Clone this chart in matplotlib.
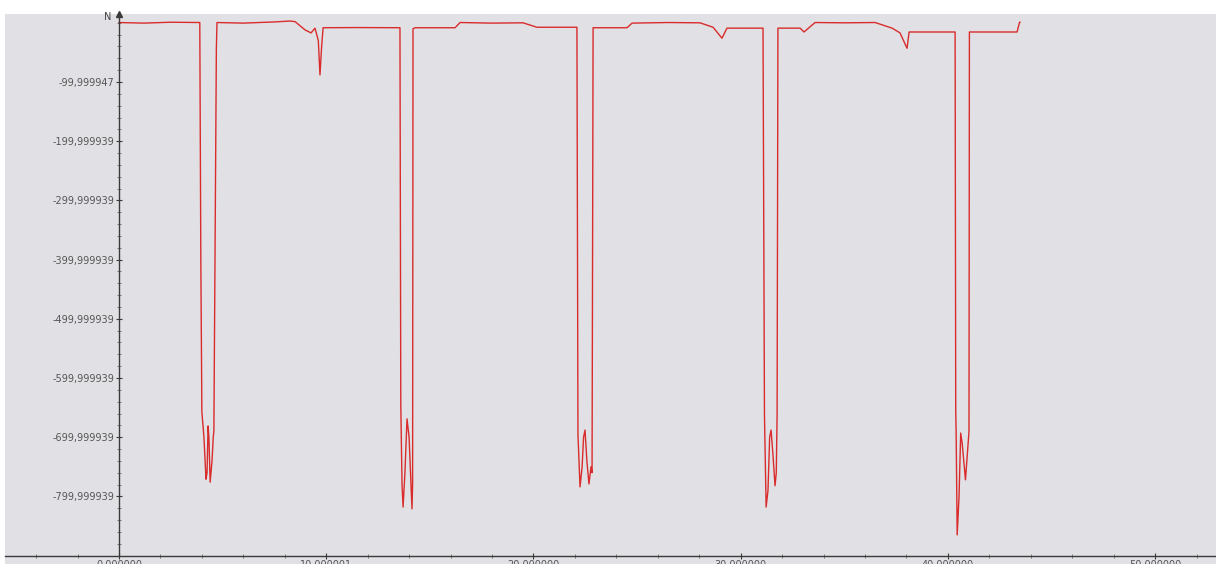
import matplotlib
matplotlib.use('Agg')
import matplotlib.pyplot as plt
from matplotlib.ticker import FixedLocator, MultipleLocator

# Force trace (time, newtons)
t = [0.0, 1.2, 2.5, 3.9, 3.95, 4.0, 4.1, 4.2, 4.25, 4.3, 4.34, 4.4, 4.49, 4.55, 4.58, 4.7, 4.73,
     6.0, 7.5, 8.25, 8.5, 8.98, 9.27, 9.46, 9.62, 9.70, 9.78, 9.85, 11.5, 13.56,
     13.6, 13.62, 13.66, 13.71, 13.8, 13.90, 14.0, 14.14, 14.17, 14.19, 14.3, 14.38,
     16.22, 16.46, 18.0, 19.5, 20.17, 22.1,
     22.15, 22.25, 22.35, 22.42, 22.49, 22.58, 22.68, 22.78, 22.83, 22.88,
     24.52, 24.76, 26.5, 28.04, 28.67, 29.1, 29.34, 31.08,
     31.15, 31.23, 31.32, 31.4, 31.47, 31.56, 31.66, 31.72, 31.76, 31.8, 31.90,
     32.87, 33.06, 33.59, 35.0, 36.49, 37.31, 37.69, 38.03, 38.13, 40.35,
     40.38, 40.40, 40.45, 40.54, 40.62, 40.69, 40.85, 41.0, 41.02, 41.04, 41.22,
     43.34, 43.46, 43.48]
force = [0.5, -0.5, 1.0, 0.5, -400, -657, -700, -771, -760, -681, -700, -776, -740, -700, -690, -43, 0.5,
         -0.5, 1.5, 3.0, 2.0, -12, -17, -9, -30, -88, -40, -8.3, -8.0, -8.3,
         -645, -691, -780, -818, -760, -669, -700, -821, -780, -10, -8.3, -8.3,
         -8.3, 0.5, -0.5, 0.0, -7.5, -7.5,
         -696, -784, -750, -700, -688, -740, -779, -750, -760, -8.3,
         -8.3, -0.5, 0.5, 0.0, -7.5, -26, -9, -9,
         -662, -818, -790, -700, -688, -730, -782, -760, -662, -9, -9,
         -9, -15.5, 0.5, 0.0, 0.5, -9, -17, -43, -15.5, -15.5,
         -657, -693, -865, -800, -693, -710, -772, -700, -690, -15.5, -15.5,
         -15.5, 1.0, 1.0]

x_ticks = [0, 10, 20, 30, 40, 50]
x_labels = ['0,000000', '10,000001', '20,000000', '30,000000', '40,000000', '50,000000']
y_ticks = [-100, -200, -300, -400, -500, -600, -700, -800]
y_labels = ['-99,999947', '-199,999939', '-299,999939', '-399,999939',
            '-499,999939', '-599,999939', '-699,999939', '-799,999939']

W, H = 1216, 564
fig = plt.figure(figsize=(W / 100, H / 100), dpi=100)
ax = fig.add_axes([5 / W, 0, 1211 / W, 550 / H])
ax.set_facecolor('#e1e1e5')

ax.plot(t, force, color='#d92b2b', lw=1.0)

ax.set_xlim(-5.5, 52.94)
ax.set_ylim(-914.2, 14.9)

for s in ['top', 'right']:
    ax.spines[s].set_visible(False)
ax.spines['left'].set_position(('data', 0))
ax.spines['bottom'].set_position(('data', -900))
ax.spines['left'].set_bounds(-900, 14.9)
for s in ['left', 'bottom']:
    ax.spines[s].set_color('#3a3a3a')
    ax.spines[s].set_linewidth(1.0)

ax.xaxis.set_major_locator(FixedLocator(x_ticks))
ax.set_xticklabels(x_labels)
ax.xaxis.set_minor_locator(MultipleLocator(2))
ax.yaxis.set_major_locator(FixedLocator(y_ticks))
ax.set_yticklabels(y_labels)
ax.yaxis.set_minor_locator(MultipleLocator(20))

ax.tick_params(which='major', direction='inout', length=5, width=0.8,
               colors='#3a3a3a', labelsize=7, labelcolor='#555555', pad=1)
ax.tick_params(which='minor', direction='inout', length=3, width=0.6, colors='#6a6a6a')

# axis arrow and unit label
ax.plot(0, 1, marker='^', ms=4, color='#3a3a3a', transform=ax.get_xaxis_transform(), clip_on=False)
ax.text(-0.35, 0.995, 'N', transform=ax.get_xaxis_transform(), ha='right', va='center',
        fontsize=7, color='#444444')

fig.savefig('out.png', dpi=100, facecolor='white')
